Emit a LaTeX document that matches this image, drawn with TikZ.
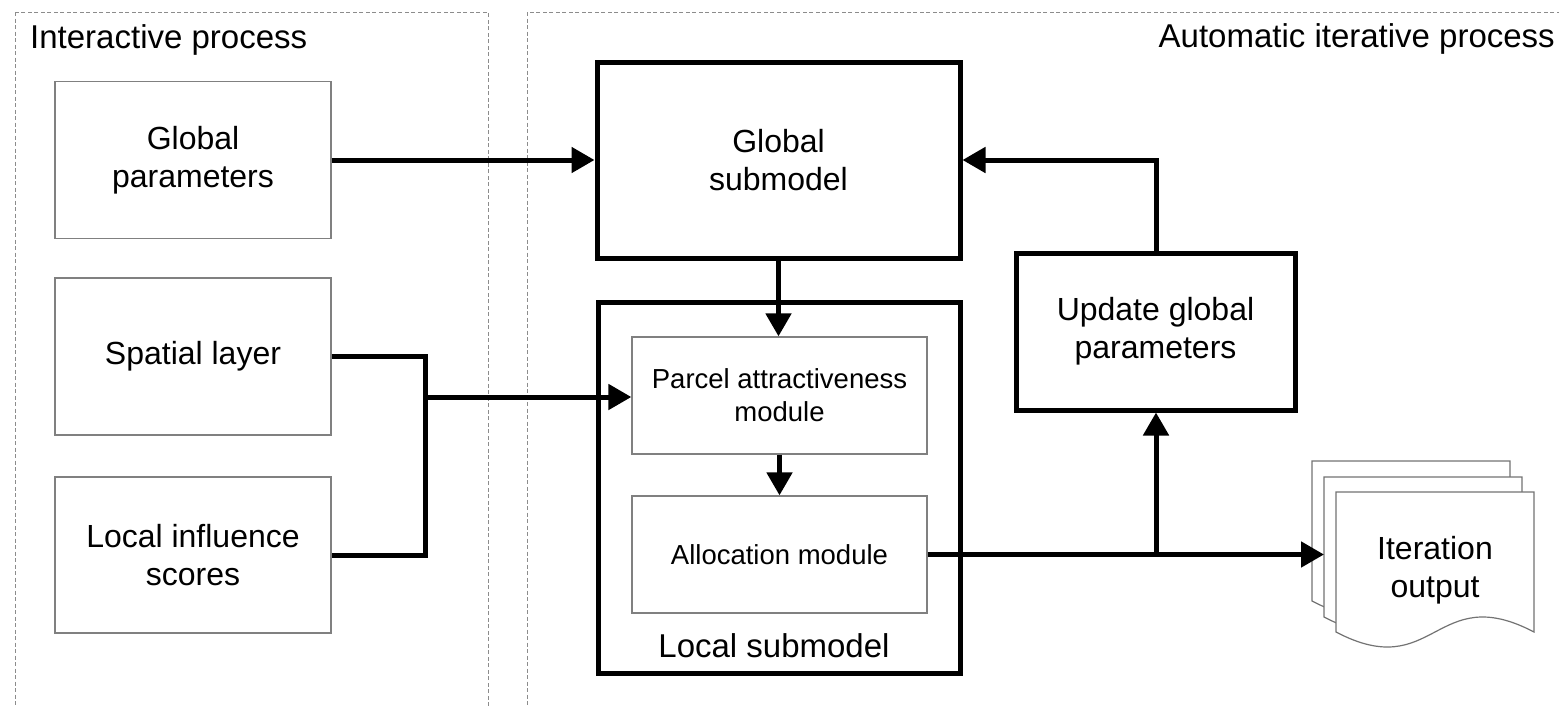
\documentclass[tikz,border=0pt]{standalone}
\usepackage{fontspec}
\setmainfont{Liberation Sans}
\usetikzlibrary{arrows.meta}
\begin{document}
\begin{tikzpicture}[x=1pt,y=-1pt,
  region/.style={draw=black!45, line width=0.9pt, dash pattern=on 4pt off 2.5pt},
  thinbox/.style={draw=black!50, line width=1.3pt, align=center, inner sep=0pt,
    font=\fontsize{32}{38}\selectfont},
  thickbox/.style={draw=black, line width=5pt, align=center, inner sep=0pt,
    font=\fontsize{32}{38}\selectfont},
  modbox/.style={draw=black!50, line width=1.3pt, align=center, inner sep=0pt,
    font=\fontsize{27.5}{33}\selectfont},
  flow/.style={line width=5pt, -{Triangle[length=23pt,width=25pt]}},
  link/.style={line width=5pt},
  sheet/.style={draw=black!55, line width=1.2pt, fill=white},
  headline/.style={font=\fontsize{33}{38}\selectfont, inner sep=0pt},
  docpage/.pic={
    \draw[sheet] (0,0) -- (198,0) -- (198,140)
      .. controls (99,88) and (99,192) .. (0,140) -- cycle;
  },
]
\useasboundingbox (0,0) rectangle (1559,705);

% process regions (open towards the lower and right edges)
\begin{scope}
  \clip (0,0) rectangle (1559,705);
  \draw[region] (15,12) rectangle (488,740);
  \draw[region] (527,12) rectangle (1580,740);
\end{scope}
\node[headline, anchor=base west] (hint) at (30,48) {Interactive process};
\node[headline, anchor=base east] (hauto) at (1555,47) {Automatic iterative process};

% inputs
\node[thinbox, minimum width=276pt, minimum height=157pt] (gp) at (193,160) {Global\\parameters};
\node[thinbox, minimum width=276pt, minimum height=157pt] (sl) at (193,356.5) {Spatial layer};
\node[thinbox, minimum width=276pt, minimum height=156pt] (li) at (193,555) {Local influence\\scores};

% submodels
\node[thickbox, minimum width=363pt, minimum height=196pt] (gs) at (778.5,160) {Global\\submodel};
\node[thickbox, minimum width=362pt, minimum height=371pt] (ls) at (779,487.5) {};
\node[modbox, minimum width=295pt, minimum height=117pt] (pa) at (779.5,395.5) {Parcel attractiveness\\module};
\node[modbox, minimum width=295pt, minimum height=117pt] (am) at (779.5,554.5) {Allocation module};
\node[headline, anchor=base] (lsl) at (774,657) {Local submodel};
\node[thickbox, minimum width=279pt, minimum height=157pt] (ug) at (1155.5,331.5) {Update global\\parameters};

% stacked output documents
\pic at (1312,461) {docpage};
\pic at (1324,477) {docpage};
\pic at (1336,492) {docpage};
\node[align=center, inner sep=0pt, font=\fontsize{32}{38}\selectfont] (io) at (1435,570) {Iteration\\output};
\coordinate (ioin) at (1324,554.5);

% connectors
\coordinate (merge) at (425,397);
\coordinate (split) at (1156,554.5);
\draw[flow] (gp.east) -- (gp.east -| gs.west);
\draw[flow] (gs.south) -- (gs.south |- pa.north);
\draw[flow] (pa.south) -- (am.north);
\draw[link] (sl.east) -| (merge) |- (li.east);
\draw[flow] (merge) -- (merge -| pa.west);
\draw[flow] (am.east) -- (ioin);
\draw[flow] (split) -- (split |- ug.south);
\draw[flow] (split |- ug.north) |- (gs.east);
\end{tikzpicture}
\end{document}
